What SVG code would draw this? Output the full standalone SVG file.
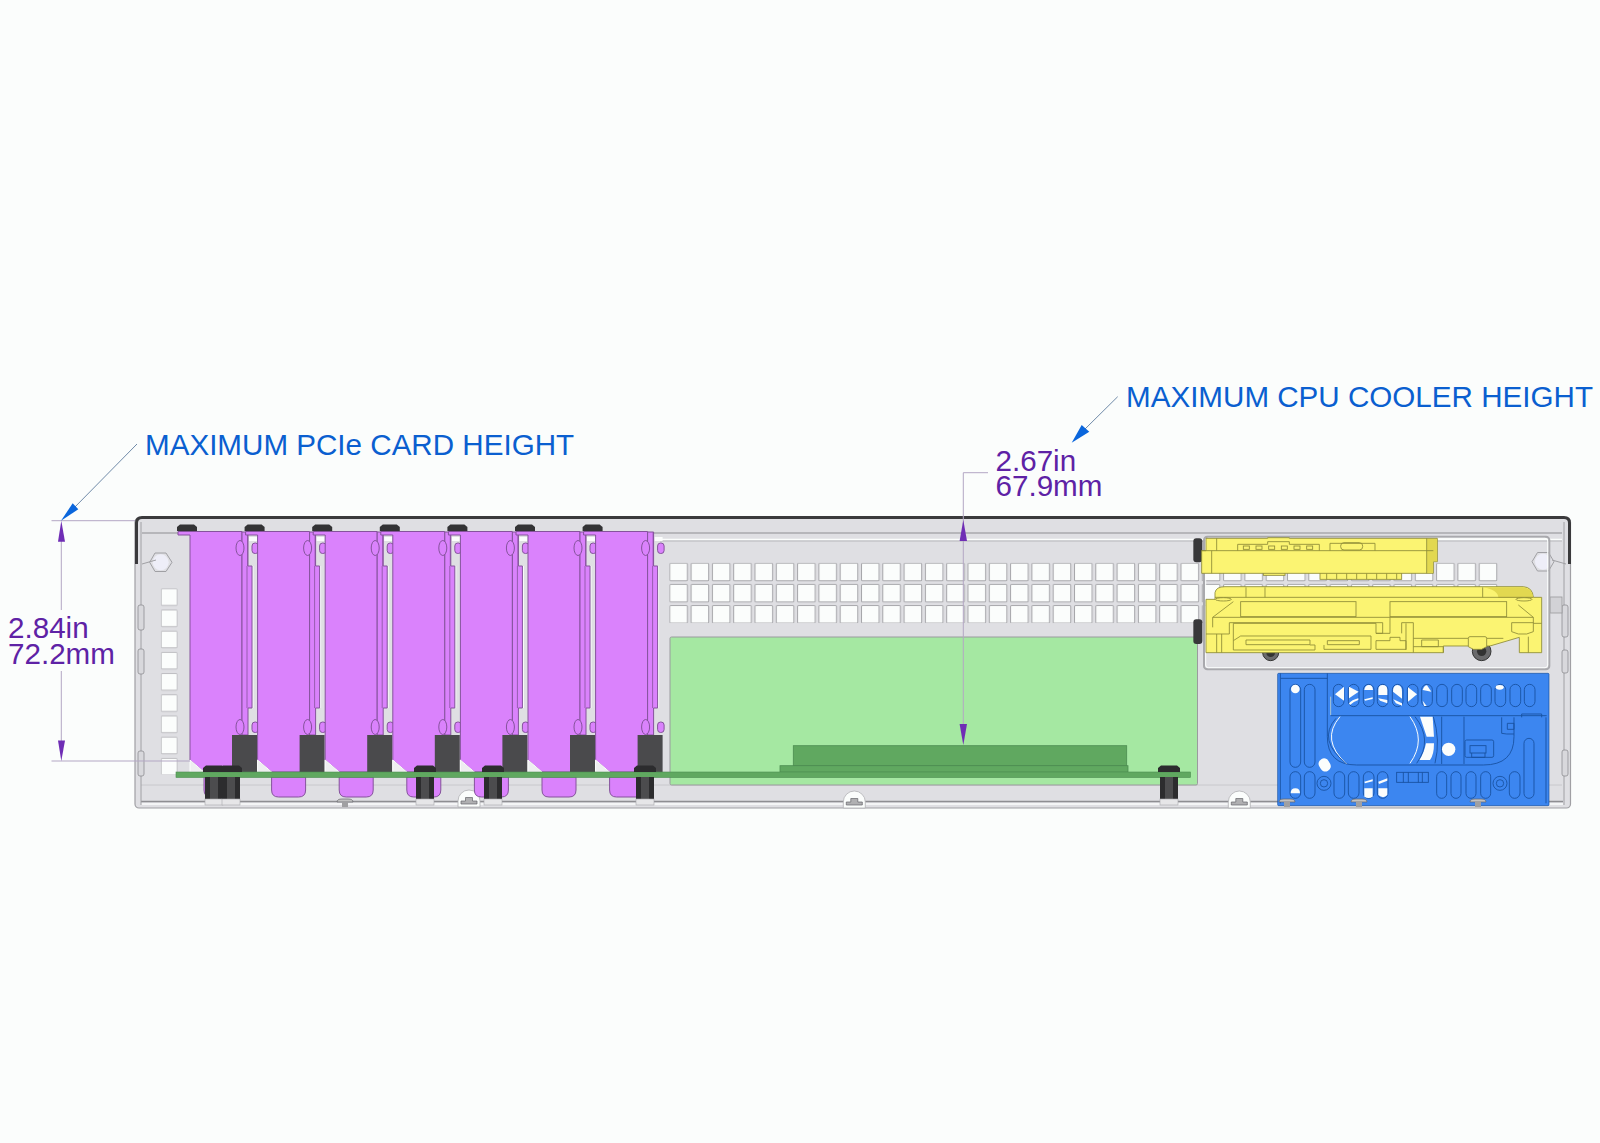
<svg xmlns="http://www.w3.org/2000/svg" xmlns:xlink="http://www.w3.org/1999/xlink" width="1600" height="1143" viewBox="0 0 1600 1143">
<style>
.lbl{font-family:"Liberation Sans",Arial,sans-serif;font-size:29.6px;fill:#0a5fd0}
.dim{font-family:"Liberation Sans",Arial,sans-serif;font-size:29.6px;fill:#5e22a5}
.dl{fill:none;stroke:#b3a7c4;stroke-width:1}
.lead{fill:none;stroke:#6f8aa8;stroke-width:1}
.ah{fill:#6f2db5}
.bh{fill:#0a66dc}
.pk{fill:#da82fc;stroke:#85539c;stroke-width:1}
.blk{fill:#4a4a4c}
.y{fill:#fbf472;stroke:#8f8c38;stroke-width:2.6}
.yl{fill:none;stroke:#8f8c38;stroke-width:2.6}
.s{fill:none;stroke:#17509f;stroke-width:2.6}
.w{fill:#fbfdfc}
</style>
<defs>
<pattern id="vent" x="669.3" y="562.7" width="21.3" height="21.2" patternUnits="userSpaceOnUse">
<rect x=".5" y=".5" width="17.6" height="17.6" rx="1" fill="#fbfdfc" stroke="#a6a6aa"/>
</pattern>
<pattern id="ventL" x="160.7" y="588.3" width="18" height="21.2" patternUnits="userSpaceOnUse">
<rect x=".5" y=".5" width="16" height="16.6" rx="1" fill="#fbfdfc" stroke="#bcbcc0"/>
</pattern>
<g id="card">
<path class="pk" d="M204,777V790Q204,797 211,797H231Q238,797 238,790V777Z"/>
<rect x="249" y="537" width="8" height="4" fill="#fbfdfc"/>
<path d="M253,566V708" stroke="#fbfdfc" stroke-width="1" fill="none"/>
<path class="pk" d="M178,531.5H242V772H204L190,760V535H178Z"/>
<path d="M190,760L204,772H190Z" fill="#eeeef0" stroke="#fbfdfc" stroke-width="1"/>
<path class="pk" d="M242,532H248V566H252V708H248V735H242Z"/>
<path d="M247.500,532V566M247,566V708" stroke="#85539c" stroke-width=".8" fill="none"/>
<ellipse class="pk" cx="240" cy="548" rx="4" ry="7.500"/>
<rect class="pk" x="252" y="543" width="6.500" height="10.500" rx="3"/>
<ellipse class="pk" cx="240" cy="727" rx="4" ry="7.500"/>
<rect class="pk" x="252" y="722" width="6.500" height="10.500" rx="3"/>
<rect x="232" y="735" width="25" height="37" class="blk"/>
<path d="M177,531V527L180,524.500H194L197,527V531Z" fill="#333335"/>
</g>
<g id="standoff">
<rect x="0" y="777" width="18" height="22" fill="#2c2c2e"/>
<rect x="5" y="777" width="8" height="22" fill="#4c4c4e"/>
<rect x="0" y="799" width="18" height="6" fill="#e6e6e8" stroke="#a8a8ac" stroke-width=".6"/>
<path d="M-2,772V768L1,765.500H17L20,768V772Z" fill="#2c2c2e"/>
</g>
<g id="dome">
<path d="M-11,808V802A11,11 0 0 1 11,802V808Z" fill="#fbfdfc" stroke="#b0b0b4" stroke-width=".8"/>
<path d="M-8,805V802H-3.500V798.500H3.500V802H8V805Z" fill="#b0b0b2" stroke="#66666a" stroke-width=".7"/>
</g>
<g id="scr">
<path d="M-8,802Q-8,799 -3,799H3Q8,799 8,802Z" fill="#c2c2c2" stroke="#66666a" stroke-width=".7"/>
<rect x="-3" y="802" width="6" height="5" fill="#a0a0a2"/>
</g>
</defs>
<rect width="1600" height="1143" fill="#fbfdfc"/>
<g id="chassis">
<rect x="135" y="518" width="1435.500" height="290" rx="4" fill="#dfdfe3" stroke="#a0a0a4" stroke-width="1.200"/>
<path d="M142,533H1562" stroke="#b6b6ba" stroke-width="2" fill="none"/>
<path d="M660,539.500H1562" stroke="#fbfdfc" stroke-width="1.500" fill="none"/>
<path d="M660,541H1562" stroke="#b8b8bc" stroke-width="1" fill="none"/>
<path d="M141,785H1562" stroke="#c8c8cc" stroke-width="1" fill="none"/>
<path d="M141,801.500H1563" stroke="#8e8e92" stroke-width="1.500" fill="none"/>
<path d="M141,804H1563" stroke="#fbfdfc" stroke-width="1.500" fill="none"/>
<path d="M141,522V805" stroke="#a0a0a4" stroke-width="1" fill="none"/>
<path d="M1564,522V805" stroke="#a0a0a4" stroke-width="1" fill="none"/>
<path d="M136.500,564V523Q136.500,517.500 142,517.500H1564Q1569.500,517.500 1569.500,523V564" stroke="#3a3a3c" stroke-width="3" fill="none"/>
<g fill="#d8d8dc" stroke="#8e8e92" stroke-width=".8">
<rect x="138" y="605" width="6" height="25" rx="2"/><rect x="138" y="649" width="6" height="25" rx="2"/><rect x="138" y="751" width="6" height="25" rx="2"/>
<rect x="1562" y="605" width="6" height="32" rx="2"/><rect x="1562" y="650" width="6" height="23" rx="2"/><rect x="1562" y="750" width="6" height="26" rx="2"/>
</g>
<rect x="1550" y="597" width="12" height="16" fill="#d2d2d6" stroke="#98989c" stroke-width=".8"/>
<g fill="#dfdfe3" stroke="#a0a0a4" stroke-width="1">
<path d="M149.700,562.300L155,553H166L172,562.300L166,571.500H155Z"/>
<path d="M1532,561.700L1537.500,552.500H1548.500L1554,561.700L1548.500,571H1537.500Z"/>
</g>
<circle cx="160.700" cy="562.300" r="8" fill="#eeeef8"/>
<circle cx="1543" cy="561.700" r="8" fill="#eeeef8"/>
<path d="M142,564L156,560" stroke="#a0a0a4" fill="none"/>
<path d="M1552,560L1566,564" stroke="#a0a0a4" fill="none"/>
<rect x="160.700" y="588.300" width="17" height="186" fill="url(#ventL)"/>
<rect x="669.300" y="562.700" width="830" height="60.400" fill="url(#vent)"/>
<use xlink:href="#dome" x="469" y="-1"/><use xlink:href="#dome" x="854.300"/><use xlink:href="#dome" x="1239.300"/>
<use xlink:href="#scr" x="345"/>
</g>
<g id="motherboard-area">
<rect x="670" y="637" width="527.500" height="148" rx="1.500" fill="#a5e8a2" stroke="#9a9a9e" stroke-width="1"/>
</g>
<g id="card-1"><use xlink:href="#card"/></g>
<g id="card-2"><use xlink:href="#card" x="67.600"/></g>
<g id="card-3"><use xlink:href="#card" x="135.200"/></g>
<g id="card-4"><use xlink:href="#card" x="202.800"/></g>
<g id="card-5"><use xlink:href="#card" x="270.400"/></g>
<g id="card-6"><use xlink:href="#card" x="338"/></g>
<g id="card-7"><use xlink:href="#card" x="405.600"/></g>
<g id="pcb">
<rect x="793.300" y="745.700" width="333.400" height="20" fill="#60a860" stroke="#4c8c50" stroke-width=".8"/>
<rect x="780" y="765.700" width="348" height="6.500" fill="#60a860" stroke="#4c8c50" stroke-width=".8"/>
<rect x="176" y="772" width="1014.500" height="5.500" fill="#60a860" stroke="#4c8c50" stroke-width=".6"/>
<use xlink:href="#standoff" x="205"/><use xlink:href="#standoff" x="222"/><use xlink:href="#standoff" x="416"/><use xlink:href="#standoff" x="484"/><use xlink:href="#standoff" x="636"/><use xlink:href="#standoff" x="1160"/>
</g>
<g id="drive-tray" transform="translate(1170 510) scale(.33333)">
<rect x="102" y="80" width="1036" height="398" rx="10" fill="none" stroke="#a9a9ad" stroke-width="6"/>
<rect x="107" y="85" width="1026" height="388" rx="8" fill="none" stroke="#fbfdfc" stroke-width="3"/>
<rect x="70" y="85" width="27" height="72" rx="9" fill="#38383a"/>
<rect x="70" y="328" width="27" height="74" rx="9" fill="#38383a"/>
<circle cx="302" cy="428" r="24" fill="#6a6a6c" stroke="#333" stroke-width="3"/>
<circle cx="302" cy="428" r="13" fill="#333"/>
<circle cx="935" cy="424" r="28" fill="#6a6a6c" stroke="#333" stroke-width="3"/>
<circle cx="935" cy="424" r="14" fill="#333"/>
</g>
<g id="drive-upper" transform="translate(1170 510) scale(.33333)">
<rect class="y" x="450" y="188" width="245" height="20"/>
<path class="yl" d="M470,190V208M500,190V208M530,190V208M560,190V208M590,190V208M620,190V208M650,190V208M680,190V208"/>
<rect class="y" x="280" y="186" width="65" height="10"/>
<path class="y" d="M108,85H293V83H358V85H802V155H790V190H95V122H108Z"/>
<rect x="771" y="87" width="30" height="67" fill="#e2d850"/>
<rect x="771" y="123" width="18" height="66" fill="#e2d850"/>
<path class="yl" d="M95,122H790M140,85V122M770,85V190M125,122V190"/>
<path class="yl" d="M203,122V103H293V95H358V103H448V122M480,122V100H615V122"/>
<rect class="yl" x="512" y="98" width="66" height="22" rx="10"/>
<g class="yl"><rect x="220" y="108" width="18" height="10"/><rect x="258" y="108" width="18" height="10"/><rect x="296" y="108" width="18" height="10"/><rect x="334" y="108" width="18" height="10"/><rect x="372" y="108" width="18" height="10"/><rect x="410" y="108" width="18" height="10"/></g>
</g>
<g id="drive-lower" transform="translate(1170 510) scale(.33333)">
<path class="y" d="M108,268H135V248Q138,230 165,230H1060Q1088,232 1090,262H1115V428H1048V382L960,408H820V428H108Z"/>
<path d="M940,232H1060Q1086,234 1090,264H985Q985,240 940,232Z" fill="#e2d850"/>
<path class="yl" d="M135,262H1090M228,232V262M285,232V262M938,232V262"/>
<rect class="yl" x="212" y="275" width="346" height="45"/>
<rect class="yl" x="660" y="275" width="350" height="45"/>
<path class="yl" d="M128,322H1090M128,322L190,275M1090,322L1045,285M128,322V352M1115,340H1090V322"/>
<path class="yl" d="M108,372H178V338H638V370H618V340H190V392L212,378H603V418H462V405M660,322V370H618M695,370V338H730V428"/>
<path class="yl" d="M228,390H420V404H228ZM190,392V420H435V405H420M472,392H568V404H472Z"/>
<path class="yl" d="M618,392H660V382H690V392H708V418H618Z"/>
<path class="yl" d="M708,420V340M140,372V428M155,372V428M730,385H1000M1075,380V428"/>
<path class="y" d="M895,385Q895,380 900,380H945Q950,380 950,385V410L935,418H910L895,410Z"/>
<path class="y" d="M755,390H805V410H755Z"/>
<path class="y" d="M1025,338H1090V365L1070,372H1045L1025,365Z"/>
<path class="yl" d="M730,410H820V428"/>
<ellipse class="y" cx="160" cy="268" rx="24" ry="5"/>
<ellipse class="y" cx="1062" cy="268" rx="24" ry="5"/>
</g>
<g id="psu-bracket" transform="translate(1170 510) scale(.33333)">
<rect x="323" y="490" width="814" height="397" rx="3" fill="#3c86f0" stroke="#17509f" stroke-width="2"/>
<path class="s" d="M331,490V880M332,505H472M472,490V680Q472,765 560,765H940Q1032,765 1032,680V622M482,617H1130M1128,622V880M815,620V762M882,620V762"/>
<path d="M482,560V615" stroke="#e8e8c0" stroke-width="2" fill="none"/>
<g class="s">
<rect x="360" y="523" width="32" height="249" rx="16"/><rect x="403" y="523" width="32" height="249" rx="16"/>
<rect x="490" y="523" width="32" height="67" rx="16"/><rect x="535" y="523" width="32" height="67" rx="16"/><rect x="580" y="523" width="32" height="67" rx="16"/><rect x="622" y="523" width="32" height="67" rx="16"/><rect x="667" y="523" width="32" height="67" rx="16"/><rect x="712" y="523" width="32" height="67" rx="16"/><rect x="755" y="523" width="32" height="67" rx="16"/><rect x="800" y="523" width="32" height="67" rx="16"/><rect x="845" y="523" width="32" height="67" rx="16"/><rect x="888" y="523" width="32" height="67" rx="16"/><rect x="932" y="523" width="32" height="67" rx="16"/><rect x="975" y="523" width="32" height="67" rx="16"/><rect x="1020" y="523" width="32" height="67" rx="16"/><rect x="1063" y="523" width="32" height="67" rx="16"/>
<rect x="360" y="785" width="32" height="80" rx="16"/><rect x="403" y="785" width="32" height="80" rx="16"/><rect x="492" y="785" width="32" height="80" rx="16"/><rect x="535" y="785" width="32" height="80" rx="16"/><rect x="580" y="785" width="32" height="80" rx="16"/><rect x="622" y="785" width="32" height="80" rx="16"/><rect x="800" y="785" width="30" height="80" rx="15"/><rect x="843" y="785" width="30" height="80" rx="15"/><rect x="888" y="785" width="30" height="80" rx="15"/><rect x="932" y="785" width="30" height="80" rx="15"/><rect x="1018" y="785" width="32" height="80" rx="16"/>
<rect x="1062" y="685" width="30" height="180" rx="15"/>
</g>
<path class="w" d="M495,553L522,530V572Z"/>
<path class="w" d="M537,530L566,545L537,565Z"/>
<path class="w" d="M540,585Q550,575 565,570V565Q545,570 537,580Z"/>
<path class="w" d="M583,540Q585,525 597,525Q608,525 609,540Z"/>
<path class="w" d="M583,568L608,562V567L585,572Z"/>
<path class="w" d="M625,555V540Q625,525 638,525Q652,525 652,540V555Z"/>
<path class="w" d="M625,565L652,570V580L630,572Z"/>
<path class="w" d="M669,545Q669,525 682,525Q696,525 696,545V566Z"/>
<path class="w" d="M670,568L696,580V587L678,580Z"/>
<path class="w" d="M714,532L741,553L714,575Z"/>
<path class="w" d="M758,540Q762,526 771,526L784,545Z"/>
<path class="w" d="M758,572L770,588H762Z"/>
<ellipse class="w" cx="989" cy="532" rx="12" ry="7"/>
<circle class="w" cx="376" cy="537" r="13"/>
<path class="w" d="M362,850Q362,835 376,835Q390,835 390,850Z"/>
<path class="w" d="M583,835H608V860Q596,868 583,860Z"/>
<path class="w" d="M625,835H652V855Q640,868 625,855Z"/>
<path class="w" d="M583,815L608,808V814L585,820Z"/>
<path class="w" d="M625,815L652,805V812L627,822Z"/>
<rect class="w" x="448" y="745" width="32" height="40" rx="15" transform="rotate(-30 464 765)"/>
<circle class="w" cx="836" cy="718" r="20"/>
<path class="w" d="M750,620H788L792,680H770Q760,650 750,620Z"/>
<path class="w" d="M768,700H792Q792,735 780,750H748Q762,730 768,700Z"/>
<path d="M510,620Q450,690 530,762M720,620Q770,690 720,760" fill="none" stroke="#fbfdfc" stroke-width="3"/>
<path class="s" d="M498,625Q440,690 530,762M735,620Q790,690 740,760M790,620Q812,690 795,760"/>
<g class="s"><circle cx="462" cy="820" r="21"/><circle cx="462" cy="820" r="11"/><circle cx="990" cy="820" r="21"/><circle cx="990" cy="820" r="11"/></g>
<rect class="s" x="680" y="787" width="95" height="30"/>
<path class="s" d="M700,787V817M715,787V817M745,787V817M757,787V817"/>
<rect class="s" x="885" y="690" width="86" height="52" rx="5"/>
<rect class="s" x="900" y="707" width="48" height="22"/>
<path class="s" d="M905,729V742H945V729"/>
<path class="s" d="M995,622V670L1010,672H1032M1012,640H1032V658H1012Z"/>
<path class="s" d="M1055,622V612H1115V622"/>
</g>
<g id="bracket-screws"><use xlink:href="#scr" x="1287"/><use xlink:href="#scr" x="1359"/><use xlink:href="#scr" x="1478"/></g>
<g id="connectors">
<path class="dl" d="M51.500,520.700H135M51.500,761H190M61.300,541V610M61.300,671V741"/>
<path class="dl" d="M988,472.700H963.300V724"/>
<path class="ah" d="M61.300,520.700L65,541.700H58Z"/>
<path class="ah" d="M61.300,761L65,740.500H58Z"/>
<path class="ah" d="M963.300,520L967,541H959.600Z"/>
<path class="ah" d="M963.300,745L967,724H959.600Z"/>
<path class="lead" d="M137,444L72,510"/>
<path class="lead" d="M1117.700,396.700L1082,432"/>
<path class="bh" d="M61,520.700L72.700,503.300L78.300,509.300Z"/>
<path class="bh" d="M1071.700,442.700L1081.700,425L1089.300,431.700Z"/>
</g>
<g id="labels">
<text class="lbl" x="145" y="455">MAXIMUM PCIe CARD HEIGHT</text>
<text class="lbl" x="1126" y="407">MAXIMUM CPU COOLER HEIGHT</text>
<text class="dim" x="8" y="638">2.84in</text>
<text class="dim" x="8" y="664">72.2mm</text>
<text class="dim" x="995.500" y="471">2.67in</text>
<text class="dim" x="995.500" y="496">67.9mm</text>
</g>
</svg>
